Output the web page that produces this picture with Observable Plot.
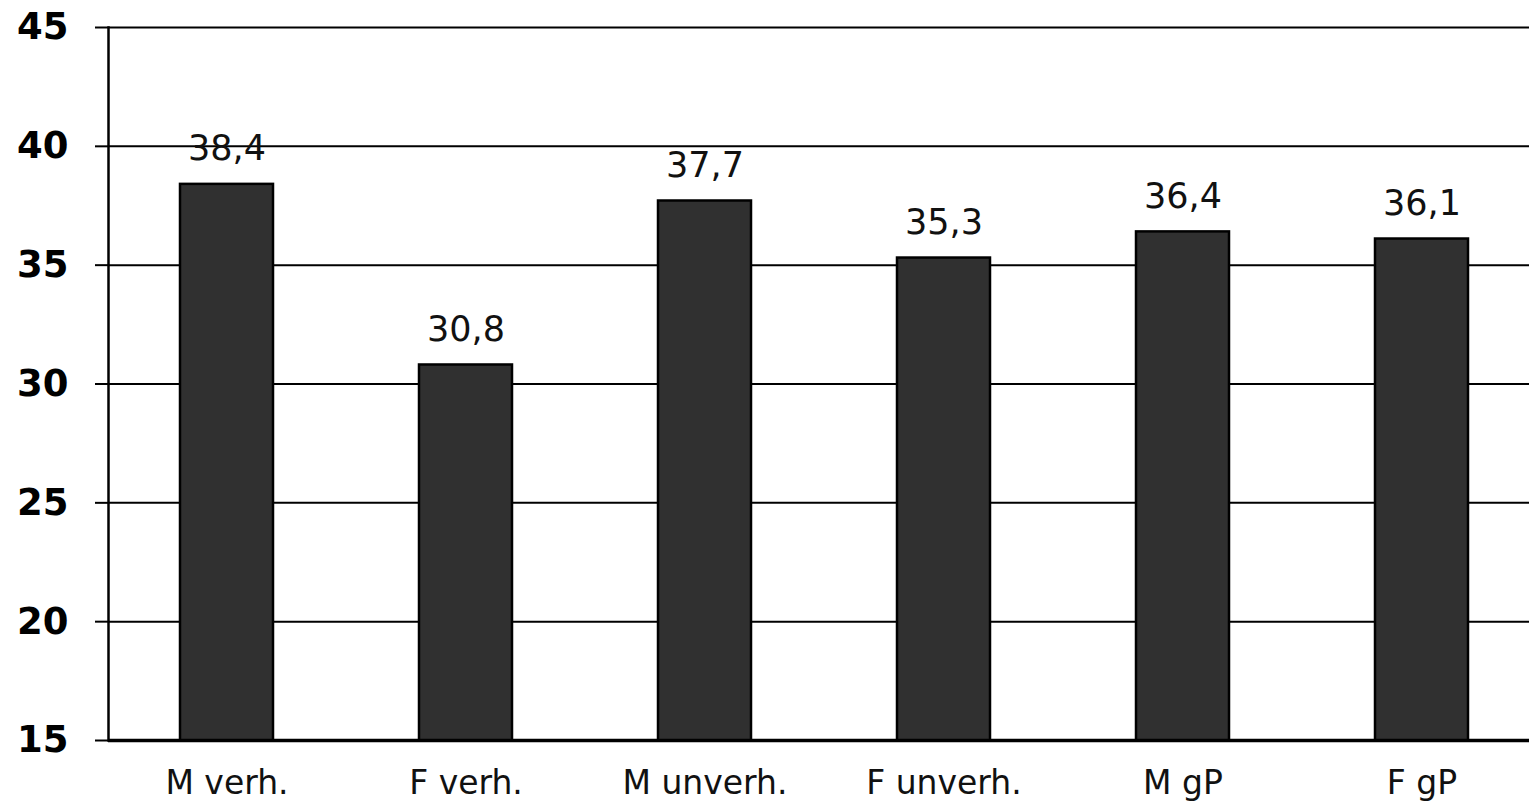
<!DOCTYPE html>
<html>
<head>
<meta charset="utf-8">
<script src="https://cdn.jsdelivr.net/npm/d3@7"></script>
<script src="https://cdn.jsdelivr.net/npm/@observablehq/plot@0.6"></script>
<style>
  html, body { margin: 0; padding: 0; background: #fff; overflow: hidden; }
  #chart svg { display: block; max-width: none !important; }
</style>
</head>
<body>
<div id="chart"></div>
<script>
const categories = ["M verh.", "F verh.", "M unverh.", "F unverh.", "M gP", "F gP"];
const values = [38.4, 30.8, 37.7, 35.3, 36.4, 36.1];
const labels = ["38,4", "30,8", "37,7", "35,3", "36,4", "36,1"];
const yTicks = [15, 20, 25, 30, 35, 40, 45];

const data = categories.map((c, i) => ({cat: c, value: values[i], label: labels[i]}));

const chart = Plot.plot({
  width: 1543,
  height: 804,
  marginLeft: 108,
  marginRight: 0,
  marginTop: 27,
  marginBottom: 64,
  style: {fontFamily: "DejaVu Sans, Verdana, sans-serif", background: "#fff", color: "#000", maxWidth: "none"},
  x: {domain: categories, range: [104.7, 1543], paddingInner: 0.61, paddingOuter: 0.305, label: null},
  y: {domain: [15, 45], label: null},
  marks: [
    Plot.gridY(yTicks, {stroke: "#000", strokeOpacity: 1, strokeWidth: 2}),
    Plot.axisY(yTicks, {tickSize: 13, tickPadding: 27, fontSize: 37, fontWeight: "bold", stroke: "#000", strokeWidth: 2, label: null, tickFormat: d => String(d)}),
    Plot.ruleY([15], {stroke: "#000", strokeWidth: 3.5}),
    Plot.frame({anchor: "left", stroke: "#000", strokeWidth: 2.5}),
    Plot.barY(data, {x: "cat", y1: 15, y2: "value", fill: "#303030", stroke: "#000", strokeWidth: 2.5}),
    Plot.text(data, {x: "cat", y: "value", text: "label", lineAnchor: "bottom", dy: -24, fontSize: 35, fill: "#111"}),
    Plot.axisX({tickSize: 0, tickPadding: 30, fontSize: 33, fill: "#111", label: null})
  ]
});
document.getElementById("chart").appendChild(chart);
</script>
</body>
</html>
